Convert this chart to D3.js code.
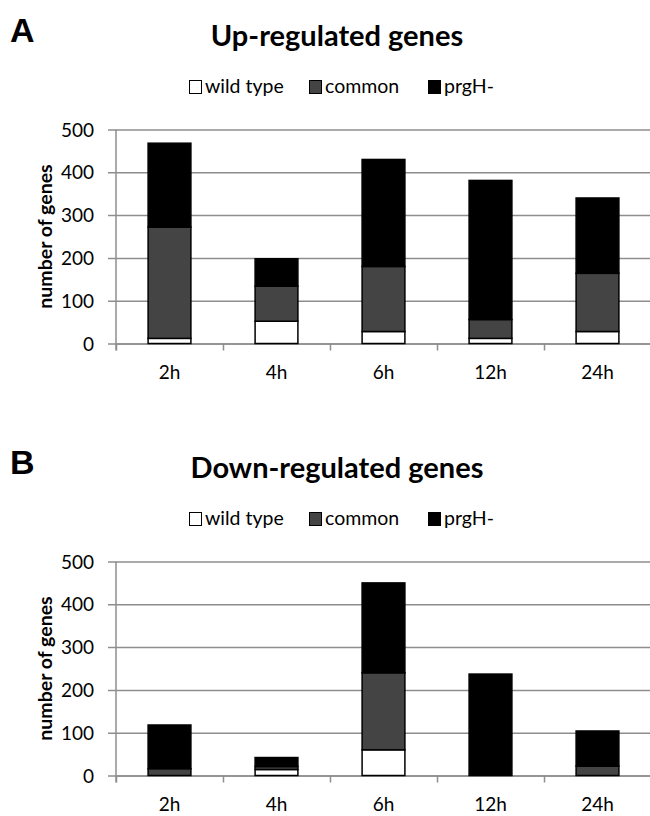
<!DOCTYPE html>
<html>
<head>
<meta charset="utf-8">
<script src="https://cdn.jsdelivr.net/npm/d3@7"></script>
<style>
  body { margin: 0; background: #fff; }
  text { font-family: Lato, "Open Sans", sans-serif; fill: #000; }
</style>
</head>
<body>
<div id="vis"></div>
<script>
let W = 650;
let H = 816;

// categories and series
const times = ['2h', '4h', '6h', '12h', '24h'];
const seriesNames = ['wild type', 'common', 'prgH-'];
const seriesKeys = ['wild', 'common', 'prgH'];
const yTicks = [0, 100, 200, 300, 400, 500];

// panel A: up-regulated genes
const upWild = [12, 52, 28, 12, 28];
const upCommon = [260, 82, 152, 44, 136];
const upPrgH = [196, 64, 250, 325, 176];

// panel B: down-regulated genes
const downWild = [0, 14, 60, 0, 0];
const downCommon = [16, 7, 180, 0, 22];
const downPrgH = [102, 21, 210, 237, 82];

const fills = { wild: '#ffffff', common: '#444444', prgH: '#000000' };
const gridColor = '#8e8e8e';

let svg = d3.select('#vis').append('svg').attr('width', W).attr('height', H);

function rows(wild, common, prgH) {
  return times.map((t, i) => ({ time: t, wild: wild[i], common: common[i], prgH: prgH[i] }));
}

function drawPanel(offsetY, letter, title, data) {
  let g = svg.append('g').attr('transform', `translate(0,${offsetY})`);
  let x0 = 116, x1 = 651, yTop = 129.5, yBot = 343.5;

  let x = d3.scaleBand().domain(times).range([x0, x1]).paddingInner(0.6).paddingOuter(0.3);
  let y = d3.scaleLinear().domain([0, 500]).range([yBot, yTop]);
  let bound = d3.scaleLinear().domain([0, times.length]).range([x0, x1]);

  // panel letter and title
  g.append('text').attr('x', 10).attr('y', 42)
    .style('font-family', '"Liberation Sans", Arial, sans-serif')
    .style('font-weight', 'bold').style('font-size', '34px').text(letter);
  g.append('text').attr('x', 337).attr('y', 46).attr('text-anchor', 'middle')
    .style('font-weight', 'bold').style('font-size', '29px').text(title);

  // legend
  let legendX = [189, 309, 428];
  let lg = g.selectAll('.leg').data(seriesKeys).enter().append('g')
    .attr('transform', (d, i) => `translate(${legendX[i]},80)`);
  lg.append('rect').attr('x', 0.5).attr('y', 0.5).attr('width', 12).attr('height', 13)
    .attr('fill', d => fills[d]).attr('stroke', '#000').attr('stroke-width', 1);
  lg.append('text').attr('x', 16).attr('y', 13).style('font-size', '19.5px')
    .text((d, i) => seriesNames[i]);

  // gridlines with left ticks
  let grid = g.append('g').attr('transform', `translate(${x0},0)`)
    .call(d3.axisLeft(y).tickValues(yTicks).tickSizeInner(-(W - x0)).tickSizeOuter(0).tickFormat(''));
  grid.select('.domain').remove();
  grid.selectAll('.tick line').attr('x1', -8).attr('stroke', gridColor).attr('stroke-width', 1.5);

  // y tick labels
  g.selectAll('.ylab').data(yTicks).enter().append('text')
    .attr('x', 94).attr('y', d => y(d) + 7).attr('text-anchor', 'end')
    .style('font-size', '19px').text(d => d);

  // y axis line
  g.append('line').attr('x1', x0).attr('x2', x0).attr('y1', yTop).attr('y2', yBot + 7)
    .attr('stroke', gridColor).attr('stroke-width', 1.5);

  // x axis with boundary ticks
  let xa = g.append('g').attr('transform', `translate(0,${yBot})`)
    .call(d3.axisBottom(bound).tickValues(d3.range(times.length + 1)).tickSizeInner(7).tickSizeOuter(0).tickFormat(''));
  xa.select('.domain').attr('stroke', gridColor).attr('stroke-width', 1.5);
  xa.selectAll('.tick line').attr('stroke', gridColor).attr('stroke-width', 1.5);

  // x labels
  g.selectAll('.xlab').data(times).enter().append('text')
    .attr('x', d => x(d) + x.bandwidth() / 2).attr('y', yBot + 35).attr('text-anchor', 'middle')
    .style('font-size', '19px').text(d => d);

  // y axis title
  g.append('text').attr('transform', `translate(52,${(yTop + yBot) / 2}) rotate(-90)`)
    .attr('text-anchor', 'middle').style('font-weight', 'bold').style('font-size', '19.5px')
    .text('number of genes');

  // stacked bars
  let stacked = d3.stack().keys(seriesKeys)(data);
  g.selectAll('.layer').data(stacked).enter().append('g')
    .attr('fill', d => fills[d.key])
    .selectAll('rect').data(d => d.filter(s => s[1] - s[0] > 0)).enter().append('rect')
    .attr('x', d => x(d.data.time))
    .attr('width', x.bandwidth())
    .attr('y', d => y(d[1]))
    .attr('height', d => y(d[0]) - y(d[1]))
    .attr('stroke', '#000').attr('stroke-width', 1.5);
}

drawPanel(0, 'A', 'Up-regulated genes', rows(upWild, upCommon, upPrgH));
drawPanel(432, 'B', 'Down-regulated genes', rows(downWild, downCommon, downPrgH));
</script>
</body>
</html>
